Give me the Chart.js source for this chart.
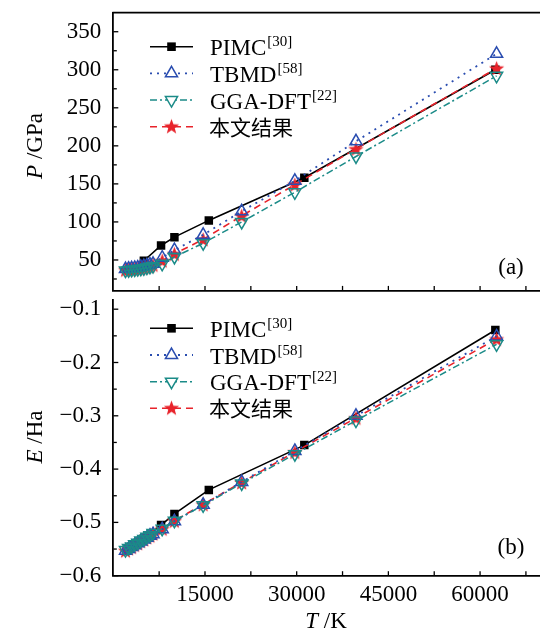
<!DOCTYPE html>
<html><head><meta charset="utf-8">
<script src="https://cdn.jsdelivr.net/npm/chart.js@4"></script>
<style>
html,body{margin:0;padding:0;background:#fff;overflow:hidden;width:540px;height:633px}
#ca{position:absolute;left:0;top:0;width:560px;height:300px}
#cb{position:absolute;left:0;top:290px;width:560px;height:343px}
</style></head>
<body>
<canvas id="ca" width="560" height="300"></canvas>
<canvas id="cb" width="560" height="343"></canvas>
<script>
// ---------- data ----------
const T_PIMC = [5000, 7812, 10000, 15625, 31250, 62500];
const P_PIMC = [49, 69, 80, 102, 158, 300];
const E_PIMC = [-0.530, -0.505, -0.484, -0.439, -0.355, -0.139];

const T_CALC = [2000, 2500, 3000, 3500, 4000, 4500, 5000, 5500, 6000, 6500, 8000, 10000, 14700, 21000, 29700, 39700, 62700];
const P_TBMD = [38, 38.5, 39, 39.5, 40, 41, 42, 43, 44, 45, 53, 63, 83, 114, 154, 206, 321];
const P_GGA  = [36, 36.5, 37, 37.5, 38, 38.5, 39, 40, 41, 42, 45, 54, 72, 100, 139, 186, 292];
const P_THIS = [37, 37.5, 38, 38.5, 39, 39.5, 40.5, 41.5, 42.5, 43.5, 49, 58, 77, 108, 149, 196, 302];
const E_TBMD = [-0.553, -0.550, -0.546, -0.543, -0.539, -0.536, -0.532, -0.529, -0.525, -0.522, -0.513, -0.498, -0.467, -0.424, -0.366, -0.300, -0.151];
const E_GGA  = [-0.552, -0.548, -0.545, -0.541, -0.538, -0.534, -0.531, -0.527, -0.524, -0.520, -0.512, -0.497, -0.468, -0.427, -0.372, -0.309, -0.166];
const E_THIS = [-0.553, -0.549, -0.546, -0.542, -0.539, -0.535, -0.532, -0.528, -0.525, -0.521, -0.512, -0.497, -0.466, -0.425, -0.368, -0.304, -0.156];

const X_LABEL_TICKS = [15000, 30000, 45000, 60000];
const X_MARK_TICKS = [7500, 15000, 22500, 30000, 37500, 45000, 52500, 60000, 67500];
const P_TICKS = [50, 100, 150, 200, 250, 300, 350];
const P_MINOR = [25, 75, 125, 175, 225, 275, 325];
const E_TICKS = [-0.6, -0.5, -0.4, -0.3, -0.2, -0.1];
const E_MINOR = [-0.55, -0.45, -0.35, -0.25, -0.15];

const SERIES_NAMES = ['PIMC', 'TBMD', 'GGA-DFT', '本文结果'];
const SERIES_REFS = ['[30]', '[58]', '[22]', ''];

// ---------- styles ----------
const SERIF = '"Liberation Serif", "DejaVu Serif", serif';
const CJK = '"Noto Sans CJK SC", sans-serif';
const BLUE = '#2a4db0', TEAL = '#1b8b88', RED = '#e8232b';

function makeStar(){
  const c = document.createElement('canvas'); c.width = 17; c.height = 17;
  const g = c.getContext('2d'); g.fillStyle = RED; g.beginPath();
  for (let i = 0; i < 10; i++) {
    const r = i % 2 === 0 ? 8 : 3.4;
    const a = -Math.PI/2 + i*Math.PI/5;
    const x = 8.5 + r*Math.cos(a), y = 9.2 + r*Math.sin(a);
    i ? g.lineTo(x, y) : g.moveTo(x, y);
  }
  g.closePath(); g.fill(); return c;
}
const STAR = makeStar();

function pts(xs, ys){ return xs.map((x,i)=>({x, y: ys[i]})); }

function datasets(pimc, tbmd, gga, mine){
  return [
    {label:'PIMC', data: pts(T_PIMC, pimc), borderColor:'#000', backgroundColor:'#000', borderWidth:1.6,
     pointStyle:'rect', pointRadius:6, pointBorderWidth:0, order:4},
    {label:'this', data: pts(T_CALC, mine), borderColor:RED, backgroundColor:RED, borderWidth:1.6, borderDash:[7,5],
     pointStyle:STAR, pointRadius:8, order:3},
    {label:'TBMD', data: pts(T_CALC, tbmd), borderColor:BLUE, backgroundColor:'rgba(255,255,255,0)', borderWidth:1.8, borderDash:[2,5],
     pointStyle:'triangle', pointRadius:7, pointBorderWidth:1.5, order:2},
    {label:'GGA', data: pts(T_CALC, gga), borderColor:TEAL, backgroundColor:'rgba(255,255,255,0)', borderWidth:1.5, borderDash:[7,3,2,3],
     pointStyle:'triangle', pointRotation:180, pointRadius:7, pointBorderWidth:1.5, order:1}
  ];
}

function drawLegend(ctx, rows){
  const styles = [
    {c:'#000', dash:[], w:1.6, m:'sq'},
    {c:BLUE, dash:[2,5], w:1.8, m:'up'},
    {c:TEAL, dash:[7,3,2,3], w:1.5, m:'down'},
    {c:RED, dash:[7,5], w:1.6, m:'star'}
  ];
  rows.forEach((y, i) => {
    const s = styles[i];
    ctx.save();
    ctx.strokeStyle = s.c; ctx.lineWidth = s.w; ctx.setLineDash(s.dash);
    ctx.beginPath(); ctx.moveTo(150, y); ctx.lineTo(193, y); ctx.stroke();
    ctx.setLineDash([]);
    const mx = 171.5;
    if (s.m === 'sq') { ctx.fillStyle = '#000'; ctx.fillRect(mx-4.3, y-4.3, 8.6, 8.6); }
    else if (s.m === 'star') { ctx.drawImage(STAR, mx-8.5, y-9); }
    else {
      ctx.fillStyle = '#fff'; ctx.lineWidth = 1.5; ctx.strokeStyle = s.c;
      const r = 7, half = r*Math.sqrt(3)/2;
      ctx.beginPath();
      if (s.m === 'up') { ctx.moveTo(mx, y - r); ctx.lineTo(mx + half, y + r/2); ctx.lineTo(mx - half, y + r/2); }
      else { ctx.moveTo(mx, y + r); ctx.lineTo(mx + half, y - r/2); ctx.lineTo(mx - half, y - r/2); }
      ctx.closePath(); ctx.fill(); ctx.stroke();
    }
    ctx.fillStyle = '#000'; ctx.textBaseline = 'alphabetic'; ctx.textAlign = 'left';
    if (i < 3) {
      ctx.font = '23px ' + SERIF;
      ctx.fillText(SERIES_NAMES[i], 210, y + 8.5);
      const w = ctx.measureText(SERIES_NAMES[i]).width;
      ctx.font = '15px ' + SERIF;
      ctx.fillText(SERIES_REFS[i], 210 + w + 1, y - 0.5);
    } else {
      ctx.font = '21px ' + CJK;
      ctx.fillText(SERIES_NAMES[i], 209, y + 8);
    }
    ctx.restore();
  });
}

const decor = {
  id: 'decor',
  afterDraw(chart, args, o){
    const ctx = chart.ctx, a = chart.chartArea, xs = chart.scales.x, ys = chart.scales.y;
    ctx.save();
    ctx.strokeStyle = '#000'; ctx.lineWidth = 1.3;
    X_MARK_TICKS.forEach(v => {
      const px = xs.getPixelForValue(v);
      ctx.beginPath(); ctx.moveTo(px, a.bottom); ctx.lineTo(px, a.bottom - 4.5); ctx.stroke();
    });
    o.major.forEach(v => {
      const py = ys.getPixelForValue(v);
      ctx.beginPath(); ctx.moveTo(a.left, py); ctx.lineTo(a.left + 5, py); ctx.stroke();
    });
    o.minor.forEach(v => {
      const py = ys.getPixelForValue(v);
      ctx.beginPath(); ctx.moveTo(a.left, py); ctx.lineTo(a.left + 3.5, py); ctx.stroke();
    });
    if (o.top) {
      ctx.lineWidth = 1.8;
      ctx.beginPath(); ctx.moveTo(a.left - 0.9, a.top); ctx.lineTo(a.right, a.top); ctx.stroke();
    }
    drawLegend(ctx, o.legendRows);
    ctx.fillStyle = '#000'; ctx.font = '23px ' + SERIF; ctx.textAlign = 'center'; ctx.textBaseline = 'middle';
    ctx.fillText(o.panel, 511, o.panelY);
    ctx.save();
    ctx.translate(36, o.titleY); ctx.rotate(-Math.PI/2);
    ctx.textBaseline = 'middle'; ctx.textAlign = 'left';
    ctx.font = 'italic 23px ' + SERIF; const w1 = ctx.measureText(o.sym).width;
    ctx.font = '23px ' + SERIF; const w2 = ctx.measureText(o.unit).width;
    let x0 = -(w1 + w2)/2;
    ctx.font = 'italic 23px ' + SERIF; ctx.fillText(o.sym, x0, 0);
    ctx.font = '23px ' + SERIF; ctx.fillText(o.unit, x0 + w1, 0);
    ctx.restore();
    if (o.xtitle) {
      ctx.textBaseline = 'middle'; ctx.textAlign = 'left';
      ctx.font = 'italic 23px ' + SERIF; const t1 = ctx.measureText('T').width;
      ctx.font = '23px ' + SERIF; const t2 = ctx.measureText(' /K').width;
      const cx = 326, y = 332;
      ctx.font = 'italic 23px ' + SERIF; ctx.fillText('T', cx - (t1+t2)/2, y);
      ctx.font = '23px ' + SERIF; ctx.fillText(' /K', cx - (t1+t2)/2 + t1, y);
    }
    ctx.restore();
  }
};

function fmt(v){ const s = String(Math.round(v*100)/100); return s.replace('-', '\u2212'); }
function noPad(s){ s.paddingTop = 0; s.paddingBottom = 0; s.paddingLeft = 0; s.paddingRight = 0; }

function common(yMin, yMax, yTicks, xLabels, xHeight){
  return {
    responsive:false, animation:false, devicePixelRatio:1,
    plugins:{legend:{display:false}, tooltip:{enabled:false}},
    scales:{
      x:{type:'linear', min:0, max:70000,
         afterBuildTicks(s){ s.ticks = X_LABEL_TICKS.map(v=>({value:v})); },
         ticks:{display:xLabels, color:'#000', font:{family:SERIF, size:23}, padding:5, maxRotation:0,
                callback:v=>String(v)},
         grid:{display:false, drawTicks:false},
         border:{display:true, color:'#000', width:1.8},
         afterFit(s){ s.height = xHeight; noPad(s); }},
      y:{type:'linear', min:yMin, max:yMax,
         afterBuildTicks(s){ s.ticks = yTicks.map(v=>({value:v})); },
         ticks:{color:'#000', font:{family:SERIF, size:23}, padding:12, callback:v=>fmt(v)},
         grid:{display:false, drawTicks:false},
         border:{display:true, color:'#000', width:1.8},
         afterFit(s){ s.width = 113.3; noPad(s); }}
    }
  };
}

const optA = common(10, 375, P_TICKS, false, 0);
optA.layout = {padding:{top:12.7, bottom:5.7, left:0, right:18.8}};
optA.plugins.decor = {major:P_TICKS, minor:P_MINOR, top:true, legendRows:[46.7, 73.3, 100, 126.7],
  panel:'(a)', panelY:268, sym:'P', unit:' /GPa', titleY:146, xtitle:false};

new Chart(document.getElementById('ca'), {
  type:'line',
  data:{datasets: datasets(P_PIMC, P_TBMD, P_GGA, P_THIS)},
  options: optA, plugins:[decor]
});

const optB = common(-0.6, -0.082, E_TICKS, true, 57.3);
optB.layout = {padding:{top:4.3, bottom:0, left:0, right:18.8}};
optB.plugins.decor = {major:E_TICKS, minor:E_MINOR, top:false, legendRows:[38.3, 65, 91.7, 118.3],
  panel:'(b)', panelY:258, sym:'E', unit:' /Ha', titleY:147, xtitle:true};

new Chart(document.getElementById('cb'), {
  type:'line',
  data:{datasets: datasets(E_PIMC, E_TBMD, E_GGA, E_THIS)},
  options: optB, plugins:[decor]
});
</script>
</body></html>
